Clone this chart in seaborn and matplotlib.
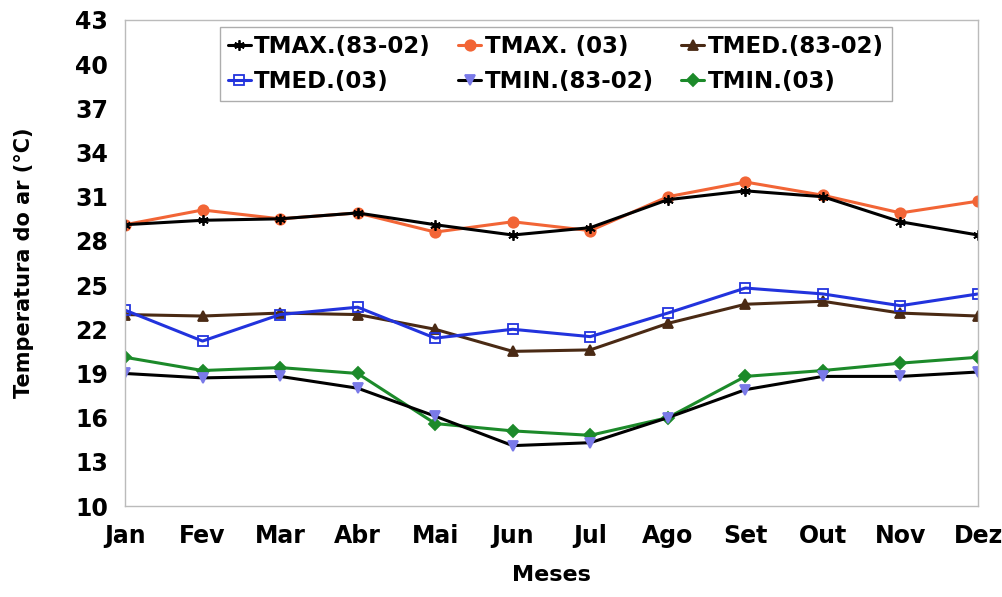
import pandas as pd
import seaborn as sns
import matplotlib.pyplot as plt

months = ["Jan", "Fev", "Mar", "Abr", "Mai", "Jun", "Jul", "Ago", "Set", "Out", "Nov", "Dez"]

tmax_hist = [29.1, 29.4, 29.5, 29.9, 29.1, 28.4, 28.9, 30.8, 31.4, 31.0, 29.3, 28.4]
tmax_03 = [29.1, 30.1, 29.5, 29.9, 28.6, 29.3, 28.7, 31.0, 32.0, 31.1, 29.9, 30.7]
tmed_hist = [23.0, 22.9, 23.1, 23.0, 22.0, 20.5, 20.6, 22.4, 23.7, 23.9, 23.1, 22.9]
tmed_03 = [23.3, 21.2, 23.0, 23.5, 21.4, 22.0, 21.5, 23.1, 24.8, 24.4, 23.6, 24.4]
tmin_hist = [19.0, 18.7, 18.8, 18.0, 16.1, 14.1, 14.3, 16.0, 17.9, 18.8, 18.8, 19.1]
tmin_03 = [20.1, 19.2, 19.4, 19.0, 15.6, 15.1, 14.8, 16.0, 18.8, 19.2, 19.7, 20.1]

yticks = [10, 13, 16, 19, 22, 25, 28, 31, 34, 37, 40, 43]

sns.set_style("white")
plt.rcParams['font.family'] = ['DejaVu Sans']
plt.rcParams['font.weight'] = 'bold'
plt.rcParams['text.color'] = 'black'
plt.rcParams['axes.labelcolor'] = 'black'
plt.rcParams['xtick.color'] = 'black'
plt.rcParams['ytick.color'] = 'black'

fig = plt.figure(figsize=(10.03, 5.97), dpi=100)
ax = fig.add_axes([0.1246, 0.1524, 0.8505, 0.8141])

x = list(range(len(months)))

# (values, label, line colour, marker, marker face, marker edge)
series = [
    (tmed_hist, "TMED.(83-02)", "#4a2a14", "^", "#4a2a14", "#4a2a14"),
    (tmed_03, "TMED.(03)", "#2233dd", "s", "none", "#2233dd"),
    (tmin_03, "TMIN.(03)", "#1c8a2a", "D", "#1c8a2a", "#1c8a2a"),
    (tmin_hist, "TMIN.(83-02)", "black", "v", "#7a7ae8", "#7a7ae8"),
    (tmax_03, "TMAX. (03)", "#f26536", "o", "#f26536", "#f26536"),
    (tmax_hist, "TMAX.(83-02)", "black", (6, 2, 0), "black", "black"),
]

for vals, lab, col, mk, mfc, mec in series:
    sns.lineplot(x=x, y=vals, ax=ax, color=col, linewidth=2.2, label=lab,
                 marker=mk, markersize=7.5 if mk != "D" else 6,
                 markerfacecolor=mfc, markeredgecolor=mec, markeredgewidth=1.3)

ax.set_xlim(0, 11)
ax.set_ylim(10, 43)
ax.set_xticks(x)
ax.set_xticklabels(months, fontsize=17, fontweight='bold')
ax.set_yticks(yticks)
ax.set_yticklabels([str(t) for t in yticks], fontsize=17, fontweight='bold')
ax.tick_params(axis='x', length=0, pad=13)
ax.tick_params(axis='y', length=0, pad=12)
ax.set_xlabel("Meses", fontsize=16, fontweight='bold', labelpad=12)
ax.set_ylabel("Temperatura do ar (°C)", fontsize=15, fontweight='bold', labelpad=30)

for s in ax.spines.values():
    s.set_color("#bbbbbb")
    s.set_linewidth(1)

handles, labels = ax.get_legend_handles_labels()
by_label = dict(zip(labels, handles))
legend_order = ["TMAX.(83-02)", "TMED.(03)", "TMAX. (03)", "TMIN.(83-02)", "TMED.(83-02)", "TMIN.(03)"]
leg = ax.legend([by_label[k] for k in legend_order], legend_order,
                ncol=3, loc='upper center', bbox_to_anchor=(0.505, 1.01),
                frameon=True, fancybox=False, edgecolor="#999999",
                prop={'size': 16.5, 'weight': 'bold'}, handlelength=1.0,
                handletextpad=0.15, columnspacing=1.2, borderpad=0.35,
                labelspacing=0.55)

fig.savefig("out.png", dpi=100)
